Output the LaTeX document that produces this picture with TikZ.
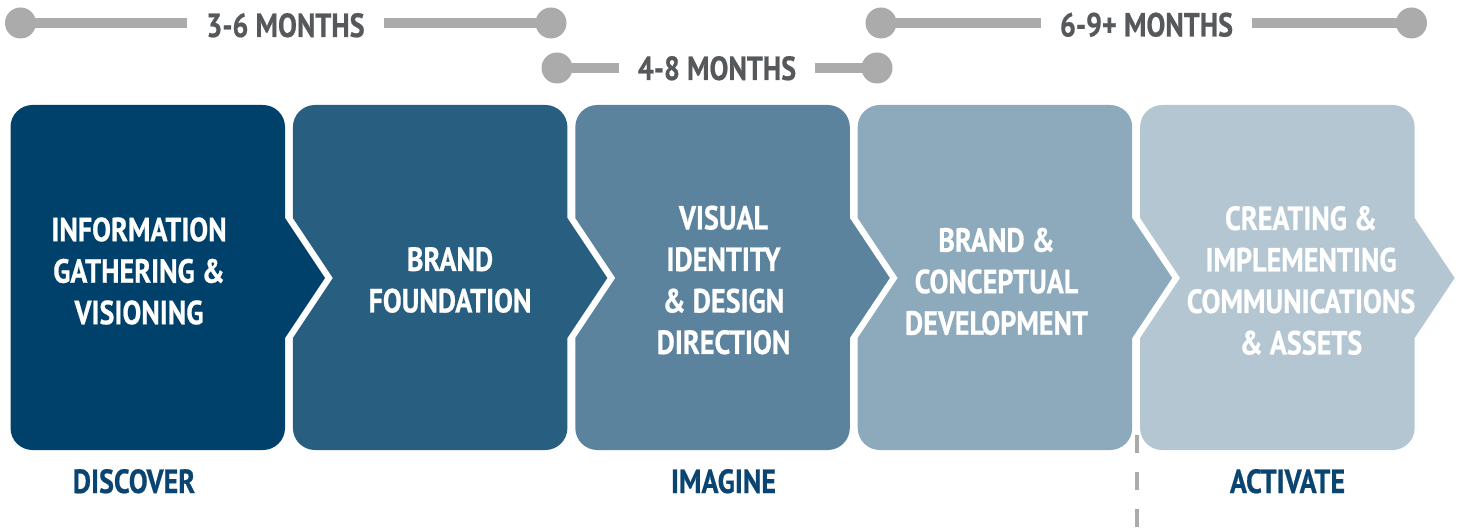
\documentclass[tikz,border=0pt]{standalone}
\usepackage{fontspec}
\setmainfont{PT Sans}[FakeStretch=0.84, BoldFeatures={FakeBold=0.6}]
\definecolor{cA}{HTML}{00416B}
\definecolor{cB}{HTML}{285E80}
\definecolor{cC}{HTML}{5B839E}
\definecolor{cD}{HTML}{8DAABD}
\definecolor{cE}{HTML}{B3C6D2}
\definecolor{barg}{HTML}{ABABAB}
\definecolor{txtg}{HTML}{55595B}
\definecolor{lbl}{HTML}{0A4470}
\newcommand\stageshape[3]{%
  \fill[#2] (#1,127) arc[start angle=180,end angle=270,radius=22]
    -- ({#1+252.5},105) arc[start angle=270,end angle=360,radius=22]
    -- ({#1+274.5},218) -- ({#1+314.5},278) -- ({#1+274.5},338)
    -- ({#1+274.5},428) arc[start angle=0,end angle=90,radius=22]
    -- ({#1+22},450) arc[start angle=90,end angle=180,radius=22]
    -- (#1,338) #3 -- (#1,218) -- cycle;}
\tikzset{
  stagetext/.style={text=white, align=center, inner sep=0pt,
    font=\bfseries\fontsize{33.5}{41.5}\selectfont},
  phase/.style={text=lbl, anchor=base, inner sep=0pt,
    font=\bfseries\fontsize{33.5}{41.5}\selectfont},
  dur/.style={text=txtg, anchor=base, fill=white, inner xsep=19pt, inner ysep=2pt,
    font=\bfseries\fontsize{33.5}{41.5}\selectfont},
  dot/.style={circle, fill=barg, minimum size=31pt, inner sep=0pt},
  bar/.style={draw=barg, line width=10.5pt},
  dashline/.style={draw=barg, line width=4.5pt, dash pattern=on 18pt off 19pt}
}
\begin{document}
\begin{tikzpicture}[x=1pt,y=-1pt]
\useasboundingbox (0,0) rectangle (1461,529);
% stage shapes
\stageshape{10.5}{cA}{}
\stageshape{292.9}{cB}{-- (332.9,278)}
\stageshape{575.3}{cC}{-- (615.3,278)}
\stageshape{857.7}{cD}{-- (897.7,278)}
\stageshape{1140.1}{cE}{-- (1180.1,278)}
% stage texts
\node[stagetext] (s1) at (139,271) {INFORMATION\\GATHERING \&\\VISIONING};
\node[stagetext] (s2) at (450,280) {BRAND\\FOUNDATION};
\node[stagetext] (s3) at (723.5,280) {VISUAL\\IDENTITY\\\& DESIGN\\DIRECTION};
\node[stagetext] (s4) at (996.5,281.5) {BRAND \&\\CONCEPTUAL\\DEVELOPMENT};
\node[stagetext] (s5) at (1301,280.5) {CREATING \&\\IMPLEMENTING\\COMMUNICATIONS\\\& ASSETS};
% phase labels
\node[phase] (l1) at (134,493) {DISCOVER};
\node[phase] (l2) at (723.5,493) {IMAGINE};
\node[phase] (l3) at (1287.5,493) {ACTIVATE};
% dashed divider
\coordinate (d1) at (1137,435);
\coordinate (d2) at (1137,529);
\draw[dashline] (d1) -- (d2);
% durations
\node[dot] (a1) at (20.5,23) {};
\node[dot] (a2) at (551,23) {};
\draw[bar] (a1.center) -- (a2.center);
\node[dur] (t1) at (285.5,37) {3-6 MONTHS};
\node[dot] (b1) at (557,68) {};
\node[dot] (b2) at (877,68) {};
\draw[bar] (b1.center) -- (b2.center);
\node[dur] (t2) at (717,80) {4-8 MONTHS};
\node[dot] (c1) at (881,23) {};
\node[dot] (c2) at (1411.5,23) {};
\draw[bar] (c1.center) -- (c2.center);
\node[dur] (t3) at (1146.5,36.5) {6-9+ MONTHS};
\end{tikzpicture}
\end{document}
